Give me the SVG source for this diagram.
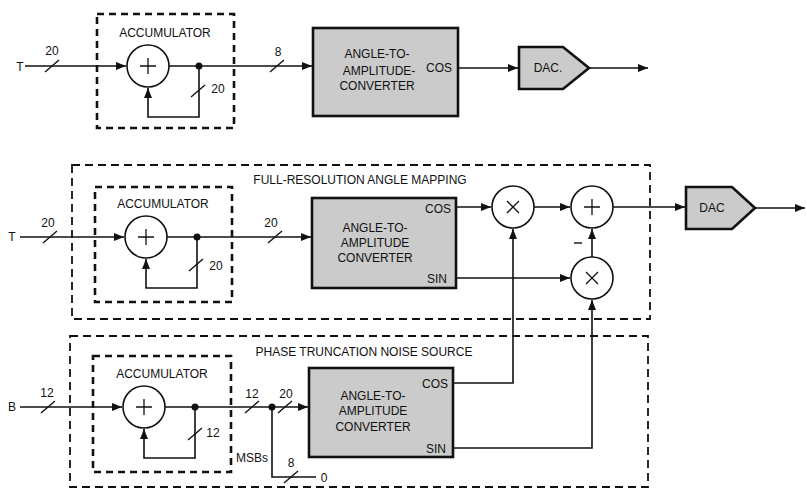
<svg xmlns="http://www.w3.org/2000/svg" width="807" height="491" viewBox="0 0 807 491">
<defs>
<marker id="arr" markerUnits="userSpaceOnUse" markerWidth="11" markerHeight="8" refX="10" refY="4" orient="auto">
<path d="M0,0 L10,4 L0,8 z" fill="#111"/>
</marker>
<style>
text{font-family:"Liberation Sans",Arial,sans-serif;font-size:12px;fill:#111}
.c{text-anchor:middle}
.w{stroke:#111;stroke-width:1.6;fill:none}
.a{stroke:#111;stroke-width:1.6;fill:none;marker-end:url(#arr)}
.s{stroke:#111;stroke-width:1.4}
.acc{fill:none;stroke:#111;stroke-width:2.6;stroke-dasharray:7 5}
.grp{fill:none;stroke:#111;stroke-width:1.8;stroke-dasharray:8 5}
.conv{fill:#cbcbcb;stroke:#111;stroke-width:2.6}
.op{fill:#fff;stroke:#111;stroke-width:1.6}
.sym{stroke:#111;stroke-width:1.3;fill:none}
.dot{fill:#111}
</style>
</defs>
<rect width="807" height="491" fill="#fff"/>

<!-- group boxes -->
<g id="full-resolution">
<rect class="grp" x="72" y="165" width="578" height="154"/>
<text class="c" x="360" y="184">FULL-RESOLUTION ANGLE MAPPING</text>
</g>
<g id="noise-source">
<rect class="grp" x="70" y="336" width="578" height="151"/>
<text class="c" x="364" y="356">PHASE TRUNCATION NOISE SOURCE</text>
</g>

<!-- accumulators -->
<g id="acc1">
<rect class="acc" x="97" y="14" width="137" height="114"/>
<text class="c" x="165" y="37">ACCUMULATOR</text>
<circle class="op" cx="148" cy="66" r="21"/>
<path class="sym" d="M140 66 H156 M148 58 V74"/>
</g>
<g id="acc2">
<rect class="acc" x="95" y="187" width="137" height="115"/>
<text class="c" x="163" y="208">ACCUMULATOR</text>
<circle class="op" cx="146" cy="237" r="21"/>
<path class="sym" d="M138 237 H154 M146 229 V245"/>
</g>
<g id="acc3">
<rect class="acc" x="93" y="356" width="138" height="116"/>
<text class="c" x="162" y="378">ACCUMULATOR</text>
<circle class="op" cx="144" cy="407" r="21"/>
<path class="sym" d="M136 407 H152 M144 399 V415"/>
</g>

<!-- converters -->
<g id="conv1">
<rect class="conv" x="313" y="28" width="145" height="88"/>
<text class="c" x="377" y="58">ANGLE-TO-</text>
<text class="c" x="379" y="75">AMPLITUDE-</text>
<text class="c" x="377" y="90">CONVERTER</text>
<text class="c" x="439" y="72">COS</text>
</g>
<g id="conv2">
<rect class="conv" x="312" y="198" width="144" height="90"/>
<text class="c" x="375" y="232">ANGLE-TO-</text>
<text class="c" x="375" y="247">AMPLITUDE</text>
<text class="c" x="375" y="262">CONVERTER</text>
<text class="c" x="438" y="213">COS</text>
<text class="c" x="437" y="283">SIN</text>
</g>
<g id="conv3">
<rect class="conv" x="309" y="368" width="144" height="89"/>
<text class="c" x="373" y="400">ANGLE-TO-</text>
<text class="c" x="373" y="415">AMPLITUDE</text>
<text class="c" x="373" y="431">CONVERTER</text>
<text class="c" x="435" y="388">COS</text>
<text class="c" x="436" y="453">SIN</text>
</g>

<!-- DACs -->
<g id="dac1">
<polygon class="conv" points="519,47 563,47 589,68 563,89 519,89"/>
<text class="c" x="548" y="72">DAC.</text>
</g>
<g id="dac2">
<polygon class="conv" points="686,187 732,187 755,208 732,229 686,229"/>
<text class="c" x="712" y="212">DAC</text>
</g>

<!-- multipliers / adder -->
<g id="mult1">
<circle class="op" cx="513" cy="207" r="21"/>
<path class="sym" d="M507 201 L519 213 M519 201 L507 213"/>
</g>
<g id="adder">
<circle class="op" cx="592" cy="207" r="21"/>
<path class="sym" d="M584 207 H600 M592 199 V215"/>
</g>
<g id="mult2">
<circle class="op" cx="592" cy="278" r="21"/>
<path class="sym" d="M586 272 L598 284 M598 272 L586 284"/>
</g>

<!-- connectors -->
<g id="connectors">
<!-- top -->
<text class="c" x="20" y="71">T</text>
<path class="a" d="M25 66 H126"/>
<path class="s" d="M45 72 L59 60"/><text class="c" x="52" y="55">20</text>
<path class="a" d="M169 66 H312"/>
<circle class="dot" cx="199" cy="66" r="3.5"/>
<path class="a" d="M199 66 V117 H148 V88"/>
<path class="s" d="M191 97 L205 85"/><text class="c" x="218" y="93">20</text>
<path class="s" d="M270 72 L284 60"/><text class="c" x="278" y="56">8</text>
<path class="a" d="M458 68 H518"/>
<path class="a" d="M589 68 H648"/>

<!-- middle -->
<text class="c" x="12" y="241">T</text>
<path class="a" d="M20 237 H124"/>
<path class="s" d="M43 243 L57 231"/><text class="c" x="48" y="227">20</text>
<path class="a" d="M167 237 H311"/>
<circle class="dot" cx="197" cy="237" r="3.5"/>
<path class="a" d="M197 237 V288 H146 V259"/>
<path class="s" d="M189 271 L203 259"/><text class="c" x="216" y="270">20</text>
<path class="s" d="M268 243 L282 231"/><text class="c" x="271" y="227">20</text>
<path class="a" d="M456 207 H491"/>
<path class="a" d="M534 207 H570"/>
<path class="a" d="M456 278 H570"/>
<path class="a" d="M592 257 V229"/>
<path class="s" d="M574 243 H582"/>
<path class="a" d="M613 207 H685"/>
<path class="a" d="M755 208 H805"/>
<path class="a" d="M453 383 H513 V229"/>
<path class="a" d="M453 448 H592 V300"/>

<!-- bottom -->
<text class="c" x="12" y="411">B</text>
<path class="a" d="M20 407 H122"/>
<path class="s" d="M41 413 L55 401"/><text class="c" x="47" y="397">12</text>
<path class="a" d="M165 407 H308"/>
<circle class="dot" cx="195" cy="407" r="3.5"/>
<path class="a" d="M195 407 V458 H144 V429"/>
<path class="s" d="M188 440 L202 428"/><text class="c" x="213" y="437">12</text>
<path class="s" d="M245 413 L259 401"/><text class="c" x="252" y="398">12</text>
<circle class="dot" cx="272" cy="407" r="3.5"/>
<path class="s" d="M278 413 L292 401"/><text class="c" x="286" y="398">20</text>
<text class="c" x="252" y="462">MSBs</text>
<path class="w" d="M272 407 V477 H316"/>
<path class="s" d="M284 483 L298 471"/><text class="c" x="291" y="467">8</text>
<text class="c" x="324" y="482">0</text>
</g>
</svg>
